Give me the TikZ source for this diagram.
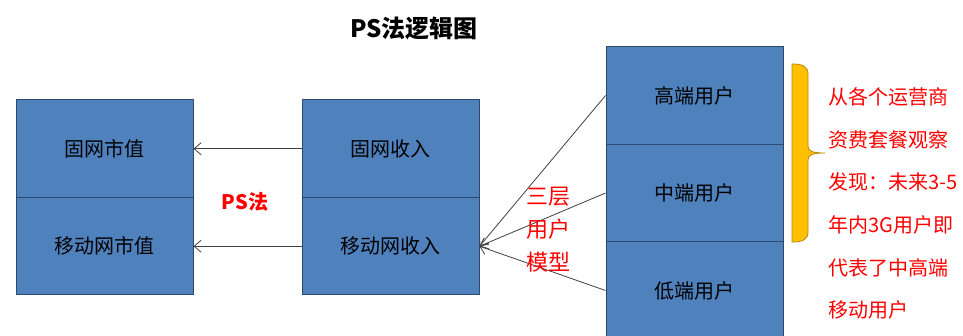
\documentclass[tikz,border=0pt]{standalone}
\usepackage{fontspec}
\setmainfont{Noto Sans CJK SC}
\usetikzlibrary{arrows.meta}
\definecolor{boxfill}{HTML}{4F81BD}
\definecolor{boxline}{HTML}{2C4A70}
\definecolor{redtxt}{HTML}{FF0000}
\definecolor{bracefill}{HTML}{FFC000}
\definecolor{braceline}{HTML}{B8860B}
\definecolor{arrline}{HTML}{404040}
\begin{document}
\begin{tikzpicture}[x=1pt,y=-1pt,
  cell/.style={draw=boxline,line width=1pt,fill=boxfill,minimum width=177pt,minimum height=97.5pt,inner sep=0pt,
    font=\fontsize{20}{24}\selectfont,text=black},
  rcell/.style={cell,minimum height=97.5pt},
  arr/.style={draw=arrline,line width=0.8pt,-{Straight Barb[length=7pt,width=12pt]}},
  redlab/.style={text=redtxt,inner sep=0pt}
]
\useasboundingbox (0,0) rectangle (963,336);
% title
\node[font=\fontsize{24}{28}\selectfont\bfseries] (title) at (414,28) {PS法逻辑图};
% left boxes
\node[cell] (l1) at (104.5,148.75) {固网市值};
\node[cell] (l2) at (104.5,246.25) {移动网市值};
% middle boxes
\node[cell] (m1) at (390.5,148.75) {固网收入};
\node[cell] (m2) at (390.5,246.25) {移动网收入};
% right boxes
\node[rcell] (r1) at (694.5,95.5) {高端用户};
\node[rcell] (r2) at (694.5,193) {中端用户};
\node[rcell] (r3) at (694.5,290.5) {低端用户};
% connectors
\draw[arr] (m1.west) -- (l1.east);
\draw[arr] (m2.west) -- (l2.east);
\draw[arr] (r1.west) -- (m2.east);
\draw[arr] (r2.west) -- (m2.east);
\draw[arr] (r3.west) -- (m2.east);
% labels
\node[redlab,font=\fontsize{20}{24}\selectfont\bfseries] (ps) at (245,202) {PS法};
\node[redlab,font=\fontsize{22}{33}\selectfont,align=center] (three) at (548,230) {三层\\用户\\模型};
% brace
\draw[fill=bracefill,draw=braceline,line width=0.8pt]
  (792,64) .. controls (802,64) and (808,66) .. (808,74)
  -- (808,146) .. controls (808,151) and (812,153) .. (825,153)
  .. controls (812,153) and (808,155) .. (808,160)
  -- (808,232) .. controls (808,240) and (802,242) .. (792,242) -- cycle;
\node[redlab,font=\fontsize{20}{42.6}\selectfont,align=left,anchor=west] (note) at (828,203.5)
  {从各个运营商\\资费套餐观察\\发现：未来3-5\\年内3G用户即\\代表了中高端\\移动用户};
\end{tikzpicture}
\end{document}
